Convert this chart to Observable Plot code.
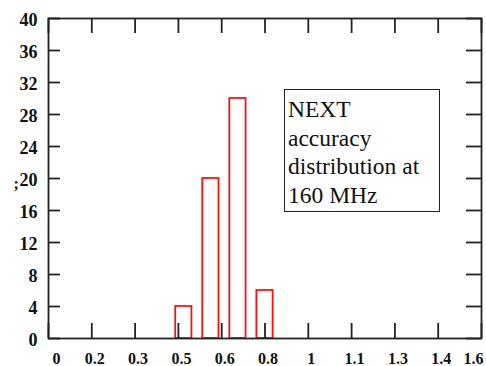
<!DOCTYPE html>
<html>
<head>
<meta charset="utf-8">
<script src="https://cdn.jsdelivr.net/npm/d3@7"></script>
<script src="https://cdn.jsdelivr.net/npm/@observablehq/plot@0.6"></script>
<style>
  html, body { margin: 0; padding: 0; background: #fff; }
  #wrap { position: relative; width: 486px; height: 366px; }
  #wrap svg text { font-family: "Liberation Serif", "Times New Roman", serif; }
  #note {
    position: absolute; left: 284px; top: 89px;
    border: 1.6px solid #222; background: #fff;
    font-family: "Liberation Serif", "Times New Roman", serif; font-size: 23.5px;
    line-height: 28.5px; padding: 5px 0 0 3px; box-sizing: border-box; color: #111;
    width: 156px; height: 123px; white-space: nowrap;
  }
</style>
</head>
<body>
<div id="wrap"></div>
<script>
// ---- data ----
const binLow   = [0.47, 0.57, 0.67, 0.77];
const binHigh  = [0.53, 0.63, 0.73, 0.83];
const counts   = [4, 20, 30, 6];
const xTicks   = [0, 0.16, 0.32, 0.48, 0.64, 0.8, 0.96, 1.12, 1.28, 1.44, 1.6];
const xLabels  = ["0", "0.2", "0.3", "0.5", "0.6", "0.8", "1", "1.1", "1.3", "1.4", "1.6"];
const yTicks   = [0, 4, 8, 12, 16, 20, 24, 28, 32, 36, 40];
const noteLines = ["NEXT", "accuracy", "distribution at", "160 MHz"];

const bars = counts.map((c, i) => ({lo: binLow[i], hi: binHigh[i], count: c}));
const xt = xTicks.map((v, i) => ({v, label: xLabels[i], i}));
const last = xt.length - 1;

const W = 486, H = 366, mL = 48, mR = 5, mT = 18, mB = 28;
const fw = W - mL - mR, fh = H - mT - mB;
const font = "'Liberation Serif', 'Times New Roman', serif";
const lab = {fontSize: 16, fontWeight: "bold", fontFamily: font, fill: "#111"};

const chart = Plot.plot({
  width: W, height: H,
  marginLeft: mL, marginRight: mR, marginTop: mT, marginBottom: mB,
  style: {fontFamily: font, background: "#fff", color: "#111"},
  x: {domain: [0, 1.6], label: null, axis: null},
  y: {domain: [0, 40], label: null},
  marks: [
    Plot.rect(bars, {x1: "lo", x2: "hi", y1: 0, y2: "count", fill: "none", stroke: "#ff1010", strokeWidth: 1.8}),
    // inward ticks on all four sides
    Plot.tickY(yTicks, {y: d => d, insetRight: fw - 12, stroke: "#222", strokeWidth: 1.8}),
    Plot.tickY(yTicks, {y: d => d, insetLeft: fw - 15, stroke: "#222", strokeWidth: 1.8}),
    Plot.tickX(xTicks, {x: d => d, insetTop: fh - 15, stroke: "#222", strokeWidth: 1.8}),
    Plot.tickX(xTicks, {x: d => d, insetBottom: fh - 15, stroke: "#222", strokeWidth: 1.8}),
    Plot.frame({stroke: "#222", strokeWidth: 1.8}),
    Plot.axisY({ticks: yTicks, tickSize: 0, tickPadding: 11, label: null, tickFormat: d => String(d), dy: 1.5, ...lab, fontSize: 18}),
    Plot.text(xt.filter(d => d.i === 0), {x: "v", y: 0, text: "label", textAnchor: "start", dx: 4, dy: 20.5, ...lab}),
    Plot.text(xt.filter(d => d.i > 0 && d.i < last), {x: "v", y: 0, text: "label", textAnchor: "middle", dx: 3, dy: 20.5, ...lab}),
    Plot.text(xt.filter(d => d.i === last), {x: "v", y: 0, text: "label", textAnchor: "end", dx: 2, dy: 20.5, ...lab}),
    Plot.text([";"], {frameAnchor: "left", y: 20, text: d => d, dx: -35, dy: 5, ...lab})
  ]
});

const wrap = document.getElementById("wrap");
wrap.appendChild(chart);
const note = document.createElement("div");
note.id = "note";
note.innerHTML = noteLines.join("<br>");
wrap.appendChild(note);
</script>
</body>
</html>
